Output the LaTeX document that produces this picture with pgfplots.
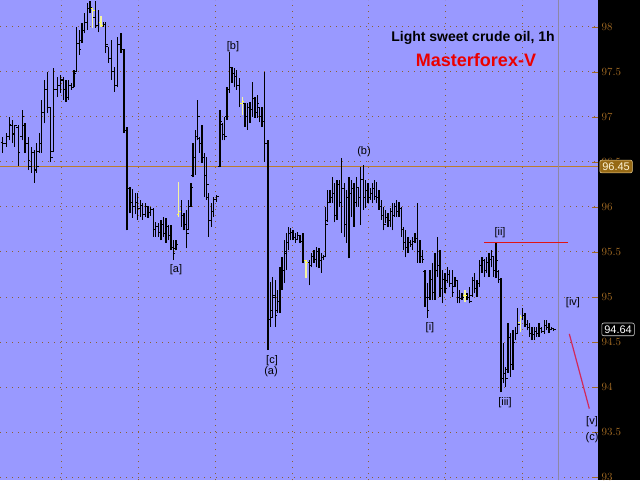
\documentclass[border=0pt]{standalone}
\usepackage{pgfplots}
\pgfplotsset{compat=1.18}
\usepackage{pgfplotstable}
\usepackage{fontspec}
\setmainfont{Liberation Sans}

\definecolor{bgpurple}{RGB}{153,153,255}
\definecolor{gridbrown}{RGB}{140,95,50}
\definecolor{lvlorange}{RGB}{185,125,45}
\definecolor{ticklbl}{RGB}{160,105,35}
\definecolor{vline}{RGB}{140,135,165}
\definecolor{paleyel}{RGB}{245,245,160}
\definecolor{tickyel}{RGB}{255,255,60}
\definecolor{boxbrown}{RGB}{150,105,20}
\definecolor{boxedge}{RGB}{230,200,140}
\definecolor{boxtext}{RGB}{255,245,215}
\definecolor{lastedge}{RGB}{210,210,210}
\definecolor{projred}{RGB}{210,40,90}
\definecolor{lvlred}{RGB}{225,20,20}
\definecolor{titlered}{RGB}{235,0,0}

\pgfdeclareplotmark{otick}{\pgfpathmoveto{\pgfqpoint{-2pt}{0pt}}\pgfpathlineto{\pgfqpoint{0pt}{0pt}}\pgfusepathqstroke}
\pgfdeclareplotmark{ctick}{\pgfpathmoveto{\pgfqpoint{0pt}{0pt}}\pgfpathlineto{\pgfqpoint{2pt}{0pt}}\pgfusepathqstroke}

\newcommand\lbl{\fontsize{11}{12}\selectfont}

% hourly bars: x (pixel position), open, high, low, close
\pgfplotstableread{
x o h l c
2.7 96.72 96.78 96.60 96.70
6.7 96.70 96.82 96.67 96.78
9.3 96.78 97.00 96.74 96.92
12.3 96.90 96.97 96.71 96.82
14.7 96.80 96.91 96.67 96.90
18.3 96.88 96.91 96.46 96.60
22.3 96.78 97.08 96.74 97.00
25.0 96.90 96.93 96.60 96.70
28.3 96.70 96.78 96.41 96.52
31.3 96.45 96.67 96.38 96.60
34.3 96.60 96.63 96.27 96.42
36.7 96.40 96.71 96.38 96.45
39.3 96.62 96.82 96.60 96.71
41.7 96.70 97.19 96.60 97.05
44.7 97.05 97.41 96.93 97.30
47.7 97.30 97.50 97.04 97.10
50.7 97.10 97.11 96.50 96.55
53.3 96.62 97.54 96.61 97.30
57.3 97.30 97.44 97.22 97.35
60.7 97.35 97.47 97.27 97.42
63.3 97.40 97.44 97.19 97.30
66.0 97.30 97.41 97.17 97.22
68.7 97.22 97.41 97.19 97.35
71.3 97.35 97.38 97.30 97.33
74.0 97.33 97.52 97.33 97.48
76.7 97.50 98.00 97.50 97.82
79.3 97.82 97.97 97.69 97.75
82.0 97.85 98.04 97.82 97.96
84.7 97.96 98.16 97.93 98.05
87.3 98.05 98.27 97.97 98.20
90.0 98.20 98.29 98.15 98.22
95.3 98.10 98.29 97.99 98.02
98.3 98.02 98.19 97.94 98.05
103.3 98.02 98.06 98.00 98.03
105.7 98.03 98.06 97.71 97.80
108.3 97.78 97.78 97.60 97.65
111.3 97.65 97.86 97.41 97.50
114.3 97.50 97.56 97.28 97.35
117.3 97.35 97.89 97.33 97.80
121.0 97.80 97.93 97.71 97.75
124.0 97.75 97.76 96.82 96.85
127.0 96.85 96.89 95.74 96.21
130.0 96.21 96.22 95.93 96.05
132.7 96.05 96.20 95.88 96.00
135.3 96.00 96.16 95.92 96.05
137.7 96.05 96.16 95.86 95.98
140.3 95.98 96.08 95.89 96.02
142.7 96.02 96.04 95.86 95.92
145.3 95.92 96.04 95.89 96.00
148.0 96.00 96.01 95.88 95.94
150.7 95.94 96.00 95.90 95.97
153.3 95.97 95.99 95.67 95.75
155.7 95.75 95.83 95.67 95.78
158.3 95.78 95.82 95.67 95.72
161.0 95.72 95.86 95.63 95.80
163.3 95.80 95.89 95.67 95.70
166.0 95.70 95.88 95.60 95.78
168.3 95.78 95.80 95.63 95.68
171.0 95.68 95.80 95.52 95.55
173.3 95.55 95.63 95.41 95.48
176.0 95.54 95.63 95.52 95.58
181.3 95.95 96.08 95.78 95.90
184.0 95.90 95.93 95.74 95.80
186.5 95.80 95.97 95.54 95.70
188.8 95.75 96.08 95.74 96.00
190.9 96.00 96.27 96.00 96.22
193.0 96.35 96.71 96.33 96.55
195.2 96.55 96.86 96.36 96.78
197.5 96.78 97.19 96.74 97.00
199.8 96.76 96.78 96.60 96.70
202.0 96.70 96.91 96.49 96.55
204.3 96.55 96.60 96.11 96.35
206.6 96.35 96.56 96.08 96.25
208.8 96.10 96.16 95.67 95.85
211.1 95.85 96.04 95.78 95.95
213.4 95.95 96.11 95.89 96.08
216.7 96.08 96.13 96.06 96.12
220.0 96.45 97.08 96.44 96.95
222.3 96.92 96.93 96.74 96.80
224.5 96.80 97.00 96.74 96.78
227.0 97.00 97.33 96.97 97.30
229.7 97.30 97.72 97.27 97.55
232.0 97.55 97.56 97.38 97.48
234.3 97.48 97.54 97.33 97.45
236.7 97.45 97.52 97.30 97.35
239.3 97.35 97.43 97.11 97.15
245.0 97.15 97.16 96.89 97.00
247.3 97.00 97.16 96.86 97.10
250.0 97.10 97.17 96.93 97.08
252.3 97.08 97.39 97.00 97.20
255.0 97.20 97.22 96.99 97.05
257.3 97.05 97.24 96.99 97.15
259.6 97.10 97.11 96.94 97.00
261.9 97.00 97.11 96.89 96.95
264.3 96.95 97.50 96.50 96.71
268.0 96.71 96.74 94.41 94.75
270.7 94.75 95.17 94.67 94.77
272.7 94.85 95.22 94.78 95.02
275.3 95.00 95.19 94.67 94.80
277.3 94.85 95.08 94.82 94.95
280.0 94.95 95.33 94.82 95.20
282.0 95.20 95.44 95.08 95.30
284.3 95.30 95.63 95.16 95.48
286.7 95.50 95.71 95.30 95.60
288.7 95.60 95.78 95.52 95.70
290.7 95.70 95.77 95.63 95.72
293.0 95.72 95.74 95.63 95.66
295.3 95.66 95.71 95.60 95.64
297.5 95.64 95.72 95.63 95.68
300.0 95.68 95.69 95.60 95.62
303.0 95.62 95.71 95.38 95.40
309.3 95.38 95.41 95.13 95.35
311.7 95.35 95.49 95.33 95.45
314.0 95.45 95.52 95.38 95.42
316.7 95.42 95.56 95.33 95.50
319.0 95.50 95.54 95.32 95.40
321.2 95.40 95.49 95.27 95.44
323.3 95.44 95.47 95.41 95.45
325.5 95.45 96.00 95.44 95.80
327.7 95.85 96.19 95.83 96.05
330.0 96.05 96.19 96.04 96.10
332.3 96.10 96.33 96.04 96.15
334.6 96.15 96.27 95.83 95.90
336.9 95.90 96.30 95.86 96.25
339.3 96.25 96.30 96.00 96.05
341.7 96.05 96.54 95.71 96.20
344.3 96.20 96.27 95.67 95.80
346.6 95.80 96.19 95.60 96.10
348.9 96.10 96.33 95.43 96.15
351.7 96.15 96.30 95.89 96.20
354.0 96.20 96.27 95.78 96.05
356.2 96.05 96.33 96.00 96.22
358.4 96.22 96.22 96.00 96.10
360.7 96.10 96.44 95.80 96.30
363.3 96.30 96.47 95.97 96.10
365.7 96.10 96.30 95.99 96.18
367.9 96.18 96.27 96.04 96.10
370.1 96.10 96.21 96.08 96.15
372.3 96.15 96.27 96.04 96.20
374.5 96.20 96.30 96.08 96.12
376.8 96.12 96.28 96.04 96.10
379.0 96.10 96.19 95.97 96.00
381.2 96.00 96.08 95.86 95.90
383.4 95.90 96.00 95.74 95.80
385.7 95.80 95.97 95.82 95.88
387.9 95.88 95.93 95.78 95.85
390.1 95.85 95.99 95.78 95.95
392.3 95.95 96.04 95.74 95.90
394.5 95.90 96.04 95.89 96.00
396.8 96.00 96.08 95.89 95.95
399.0 95.95 96.06 95.89 95.98
401.2 95.98 96.00 95.67 95.75
403.4 95.75 95.78 95.52 95.60
405.7 95.60 95.74 95.44 95.55
407.9 95.55 95.67 95.49 95.60
410.2 95.60 95.63 95.56 95.58
412.5 95.58 95.67 95.52 95.62
415.0 95.62 95.71 95.60 95.65
417.7 95.65 96.04 95.38 95.50
420.0 95.50 95.63 95.38 95.45
422.3 95.45 95.52 95.38 95.42
425.0 95.28 95.30 94.89 95.00
427.3 95.00 95.16 94.77 94.85
430.0 95.00 95.30 94.97 95.20
432.3 95.20 95.38 94.97 95.05
435.0 95.05 95.49 94.97 95.30
437.3 95.30 95.67 95.22 95.35
440.0 95.35 95.52 95.00 95.10
442.3 95.10 95.30 94.93 95.20
445.0 95.20 95.27 95.04 95.10
447.3 95.18 95.33 95.16 95.25
449.7 95.25 95.30 95.11 95.15
452.3 95.15 95.30 95.00 95.05
455.0 95.12 95.22 95.11 95.18
457.3 95.18 95.19 94.93 95.00
459.7 95.00 95.08 94.93 94.98
462.0 94.98 95.04 94.97 95.00
467.0 95.02 95.04 94.97 95.00
469.7 95.00 95.11 94.93 94.95
472.3 95.02 95.22 95.00 95.18
474.7 95.18 95.27 95.04 95.10
477.0 95.10 95.19 95.00 95.15
479.7 95.15 95.41 95.11 95.35
481.9 95.35 95.44 95.27 95.40
484.3 95.40 95.42 95.22 95.30
486.7 95.30 95.44 95.27 95.38
489.0 95.38 95.49 95.22 95.42
491.3 95.42 95.52 95.33 95.45
493.7 95.45 95.46 95.22 95.30
496.0 95.30 95.61 95.21 95.40
498.5 95.28 95.30 95.16 95.20
501.0 95.20 95.21 93.94 94.10
503.3 94.10 94.49 94.04 94.15
505.7 94.15 94.22 94.00 94.10
508.0 94.20 94.71 94.16 94.55
510.6 94.55 94.60 94.11 94.25
513.0 94.25 94.63 94.19 94.50
515.3 94.50 94.67 94.52 94.60
517.7 94.60 94.88 94.60 94.70
522.7 94.77 94.88 94.74 94.80
525.0 94.80 94.82 94.67 94.70
527.3 94.70 94.74 94.63 94.66
529.7 94.66 94.71 94.56 94.60
532.0 94.60 94.67 94.52 94.58
534.3 94.58 94.67 94.52 94.62
536.7 94.62 94.67 94.56 94.60
539.0 94.60 94.71 94.56 94.65
541.7 94.65 94.67 94.60 94.62
544.3 94.62 94.74 94.59 94.68
546.7 94.68 94.74 94.63 94.66
549.0 94.66 94.71 94.60 94.64
551.5 94.64 94.67 94.63 94.65
553.7 94.65 94.66 94.62 94.64
}\bars

% highlighted (pale yellow) bars
\pgfplotstableread{
x o h l c
92.7 98.20 98.21 97.99 98.18
101.0 98.05 98.12 98.00 98.02
178.7 95.92 96.28 95.89 95.95
242.3 97.15 97.22 97.02 97.17
306.0 95.40 95.41 95.21 95.38
465.0 95.02 95.08 94.94 95.02
520.3 94.72 94.80 94.61 94.77
}\ybars

\begin{document}
\begin{tikzpicture}
\fill[black] (0,0) rectangle (640pt,480pt);
\begin{axis}[
  at={(0,0)}, anchor=south west,
  scale only axis, width=598pt, height=480pt,
  xmin=0, xmax=598, ymin=92.9667, ymax=98.3,
  axis background/.style={fill=bgpurple},
  axis x line*=bottom, axis y line*=right,
  x axis line style={draw=none}, y axis line style={draw=none},
  xtick={61.7,138.5,215.3,292.1,368.9,445.7,522.5},
  xticklabels={}, xtick style={draw=none},
  ytick={93,93.5,...,98},
  ytick style={draw=ticklbl, line width=0.8pt},
  major tick length=6pt, tick align=inside,
  grid=major,
  grid style={gridbrown, line width=1pt, dash pattern=on 1pt off 5pt},
  yticklabel style={font=\fontsize{11}{12}\selectfont, text=ticklbl,
    anchor=west, inner sep=0pt, xshift=3.5pt},
  clip=false,
]
\addplot[lvlorange, line width=1pt] coordinates {(0,96.45) (598,96.45)};
\addplot[vline, line width=1pt] coordinates {(558,92.9667) (558,98.3)};

% high-low ranges
\addplot[draw=none, no markers,
  error bars/.cd, y dir=plus, y explicit, error mark=none,
  error bar style={draw=black, line width=1.2pt}]
  table[x=x, y=l, y error expr=\thisrow{h}-\thisrow{l}] {\bars};
\addplot[only marks, mark=otick, mark options={black, line width=1pt}]
  table[x=x, y=o] {\bars};
\addplot[only marks, mark=ctick, mark options={black, line width=1pt}]
  table[x=x, y=c] {\bars};

\addplot[draw=none, no markers,
  error bars/.cd, y dir=plus, y explicit, error mark=none,
  error bar style={draw=paleyel, line width=1.3pt}]
  table[x=x, y=l, y error expr=\thisrow{h}-\thisrow{l}] {\ybars};
\addplot[only marks, mark=otick, mark options={tickyel, line width=1pt}]
  table[x=x, y=o] {\ybars};
\addplot[only marks, mark=ctick, mark options={tickyel, line width=1pt}]
  table[x=x, y=c] {\ybars};

% wave level and projection
\addplot[lvlred, line width=1pt] coordinates {(484,95.61) (568,95.61)};
\addplot[projred, line width=1.2pt] coordinates {(569.3,94.59) (589.3,93.76)};

% wave labels
\node[font=\lbl] at (axis cs:176,95.30) {[a]};
\node[font=\lbl] at (axis cs:233,97.78) {[b]};
\node[font=\lbl] at (axis cs:272,94.29) {[c]};
\node[font=\lbl] at (axis cs:271,94.17) {(a)};
\node[font=\lbl] at (axis cs:364,96.62) {(b)};
\node[font=\lbl] at (axis cs:430,94.66) {[i]};
\node[font=\lbl] at (axis cs:500,95.71) {[ii]};
\node[font=\lbl] at (axis cs:505,93.83) {[iii]};
\node[font=\lbl] at (axis cs:573,94.94) {[iv]};
\node[font=\lbl] at (axis cs:592,93.61) {[v]};
\node[font=\lbl] at (axis cs:592,93.44) {(c)};

% titles
\node[font=\bfseries\fontsize{14}{16}\selectfont] at (axis cs:473,97.88) {Light sweet crude oil, 1h};
\node[font=\bfseries\fontsize{18}{20}\selectfont, text=titlered] at (axis cs:476,97.63) {Masterforex-V};

% price boxes
\node[anchor=west, fill=boxbrown, draw=boxedge, line width=0.6pt,
  rounded corners=2pt, inner sep=2.5pt, text=boxtext,
  font=\fontsize{11}{12}\selectfont] at (axis cs:599.5,96.45) {96.45};
\node[anchor=west, fill=black, draw=lastedge, line width=0.6pt,
  rounded corners=2pt, inner sep=2.5pt, text=white,
  font=\fontsize{11}{12}\selectfont] at (axis cs:601.5,94.64) {94.64};
\end{axis}
\pgfresetboundingbox
\useasboundingbox (0,0) rectangle (640pt,480pt);
\end{tikzpicture}
\end{document}
